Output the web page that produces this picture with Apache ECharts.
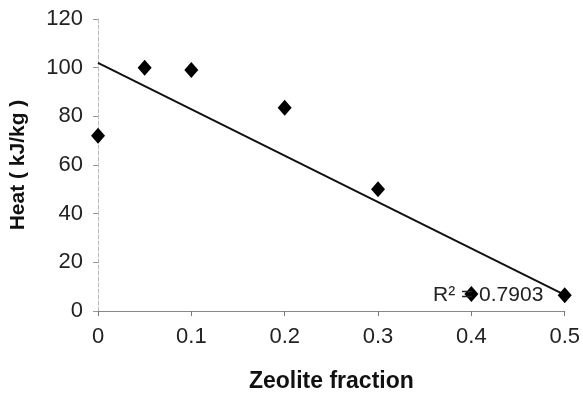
<!DOCTYPE html>
<html>
<head>
<meta charset="utf-8">
<script src="https://cdn.jsdelivr.net/npm/echarts@6/dist/echarts.min.js"></script>
<style>
  html, body { margin: 0; padding: 0; background: #fff; }
  #chart { width: 583px; height: 398px; }
</style>
</head>
<body>
<div id="chart"></div>
<script>
// zeolite fraction vs heat
var zeolite = [0, 0.05, 0.1, 0.2, 0.3, 0.4, 0.5];
var heat = [72, 100, 99, 83.5, 50, 7, 6.5];
var xTicks = [0, 0.1, 0.2, 0.3, 0.4, 0.5];
var r2Text = 'R\u00b2 = 0.7903';

// least squares trend line
var n = zeolite.length, sx = 0, sy = 0, sxx = 0, sxy = 0;
for (var i = 0; i < n; i++) {
    sx += zeolite[i]; sy += heat[i];
    sxx += zeolite[i] * zeolite[i]; sxy += zeolite[i] * heat[i];
}
var slope = (n * sxy - sx * sy) / (n * sxx - sx * sx);
var icept = (sy - slope * sx) / n;
var xMin = xTicks[0], xMax = xTicks[xTicks.length - 1];
var trend = [[xMin, icept + slope * xMin], [xMax, icept + slope * xMax]];

var font = '"Liberation Sans", Arial, sans-serif';
var chart = echarts.init(document.getElementById('chart'));
chart.setOption({
    animation: false,
    grid: { left: 98, right: 17, top: 19, bottom: 85 },
    xAxis: {
        type: 'value', min: 0, max: 0.5, interval: 0.1,
        name: 'Zeolite fraction', nameLocation: 'middle', nameGap: 59,
        nameTextStyle: { fontFamily: font, fontSize: 23, fontWeight: 'bold', color: '#111' },
        axisLine: { lineStyle: { color: '#888', width: 1 } },
        axisTick: { show: true, length: 5, lineStyle: { color: '#777' } },
        axisLabel: { fontFamily: font, fontSize: 22, color: '#222', margin: 15 },
        splitLine: { show: false }
    },
    yAxis: {
        type: 'value', min: 0, max: 120, interval: 20,
        name: 'Heat ( kJ/kg )', nameLocation: 'middle', nameGap: 69,
        nameTextStyle: { fontFamily: font, fontSize: 21, fontWeight: 'bold', color: '#111' },
        axisLine: { show: true, lineStyle: { color: '#bbb', type: 'dashed', width: 1 } },
        axisTick: { show: true, length: 5, lineStyle: { color: '#999' } },
        axisLabel: { fontFamily: font, fontSize: 22, color: '#222', margin: 15 },
        splitLine: { show: false }
    },
    series: [
        {
            type: 'line',
            data: trend,
            showSymbol: false,
            lineStyle: { color: '#111', width: 2 },
            z: 2
        },
        {
            type: 'scatter',
            data: zeolite.map(function (x, k) { return [x, heat[k]]; }),
            symbol: 'diamond',
            symbolSize: [14, 16],
            itemStyle: { color: '#000', opacity: 1 },
            z: 3
        }
    ],
    graphic: [{
        type: 'text',
        left: 433, top: 285,
        style: { text: r2Text, font: '21px ' + font, fill: '#222' },
        z: 10
    }]
});
</script>
</body>
</html>
